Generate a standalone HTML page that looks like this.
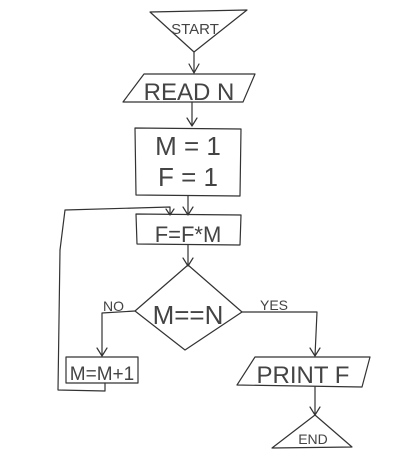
<!DOCTYPE html>
<html><head><style>
html,body{margin:0;padding:0;background:#fff;}
svg{display:block;}
text{font-family:"Liberation Sans",sans-serif;fill:#444;}
</style></head><body>
<svg width="401" height="460" viewBox="0 0 401 460" xmlns="http://www.w3.org/2000/svg">
<g fill="none" stroke="#333" stroke-width="1.2" stroke-linejoin="round" stroke-linecap="round">
<path d="M150 12 L247 10 L194 52 Z"/>
<path d="M194 52 L194 73 M189 64 L194 73 L199 64"/>
<path d="M144 74 L255 74 L243 102 L123 102 Z"/>
<path d="M192 102 L192 126 M187 118 L192 126 L197 118"/>
<path d="M135 128 L241 129 L240 196 L136 195 Z"/>
<path d="M188 196 L188 215 M183 207 L188 215 L193 207"/>
<path d="M136 214 L241 215 L240 245 L137 244 Z"/>
<path d="M60 250 L65 210 L170 207 L170 215 M166 209 L170 215 L174 209"/>
<path d="M188 245 L188 266 M183 258 L188 266 L193 258"/>
<path d="M188 265 L242 312 L185 350 L135 311 Z"/>
<path d="M135 311 L102 313 L102 356 M97 348 L102 356 L107 348"/>
<path d="M66 357 L138 357 L138 383 L66 383 Z"/>
<path d="M105 383 L105 391 L58 390 L60 250"/>
<path d="M242 312 L317 312 L315 356 M310 348 L315 356 L320 348"/>
<path d="M255 357 L370 357 L362 387 L237 385 Z"/>
<path d="M315 387 L315 415 M310 407 L315 415 L320 407"/>
<path d="M315 415 L352 447 L272 448 Z"/>
</g>
<text x="195" y="34" font-size="15" text-anchor="middle">START</text>
<text x="189" y="100" font-size="24" text-anchor="middle">READ N</text>
<text x="188" y="155" font-size="26" text-anchor="middle">M = 1</text>
<text x="188" y="186" font-size="26" text-anchor="middle">F = 1</text>
<text x="188" y="242" font-size="22" text-anchor="middle">F=F*M</text>
<text x="188" y="324" font-size="26" text-anchor="middle">M==N</text>
<text x="103" y="311" font-size="14">NO</text>
<text x="260" y="310" font-size="14">YES</text>
<text x="102" y="380" font-size="19" text-anchor="middle">M=M+1</text>
<text x="303" y="383" font-size="24" text-anchor="middle">PRINT F</text>
<text x="313" y="444" font-size="14" text-anchor="middle">END</text>
</svg>
</body></html>
